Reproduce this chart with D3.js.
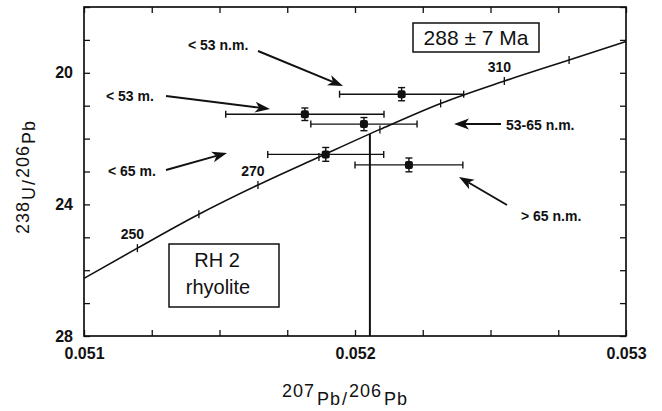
<!DOCTYPE html>
<html>
<head>
<meta charset="utf-8">
<script src="https://cdn.jsdelivr.net/npm/d3@7"></script>
<style>
  body { margin: 0; background: #fff; }
  svg { display: block; }
  text { font-family: "Liberation Sans", Arial, sans-serif; fill: #111; }
</style>
</head>
<body>
<div id="chart"></div>
<script>
// Tera-Wasserburg plot, sample RH 2 rhyolite

// concordia, age marks (Ma)
const concAge = [250, 260, 270, 280, 290, 300, 310, 320];
const concX = [0.051197, 0.051424, 0.051642, 0.051867, 0.052092, 0.052316, 0.052551, 0.052790];
const concY = [25.33, 24.30, 23.41, 22.56, 21.72, 20.93, 20.25, 19.61];
const concEdgeX = [0.051, 0.053];
const concEdgeY = [26.25, 19.05];
const ageLabels = [250, 270, 310];

// zircon fractions
const fracName = ["< 53 n.m.", "< 53 m.", "53-65 n.m.", "< 65 m.", "> 65 n.m."];
const fracX = [0.052172, 0.051815, 0.052033, 0.051892, 0.052199];
const fracY = [20.65, 21.26, 21.56, 22.48, 22.80];
const fracXErr = [0.000229, 0.000292, 0.000196, 0.000214, 0.000199];
const fracYErr = [0.20, 0.19, 0.20, 0.21, 0.21];

// lower intercept
const interceptX = 0.052055;
const interceptY = 21.86;

const xTicks = d3.range(0, 9).map(i => 0.051 + i * 0.00025);
const xTickLabels = [0.051, 0.052, 0.053];
const yTicks = d3.range(18, 29);
const yTickLabels = [20, 24, 28];

const W = 662, H = 411;
const mLeft = 84, mRight = 626, mTop = 7, mBottom = 336;

const x = d3.scaleLinear().domain([0.051, 0.053]).range([mLeft, mRight]);
const y = d3.scaleLinear().domain([18, 28]).range([mTop, mBottom]);

const svg = d3.select("#chart").append("svg")
  .attr("width", W).attr("height", H);

const isLabelX = d => xTickLabels.some(v => Math.abs(v - d) < 1e-9);

// axes, ticks pointing inward
const axB = svg.append("g").attr("transform", `translate(0,${mBottom})`)
  .call(d3.axisBottom(x).tickValues(xTicks).tickSize(-6).tickPadding(12)
    .tickFormat(d => isLabelX(d) ? d3.format(".3f")(d) : ""));
const axT = svg.append("g").attr("transform", `translate(0,${mTop})`)
  .call(d3.axisTop(x).tickValues(xTicks).tickSize(-6).tickFormat(""));
const axL = svg.append("g").attr("transform", `translate(${mLeft},0)`)
  .call(d3.axisLeft(y).tickValues(yTicks).tickSize(-6).tickPadding(11)
    .tickFormat(d => yTickLabels.includes(d) ? d : ""));
const axR = svg.append("g").attr("transform", `translate(${mRight},0)`)
  .call(d3.axisRight(y).tickValues(yTicks).tickSize(-6).tickFormat(""));

[axB, axT, axL, axR].forEach(g => {
  g.select(".domain").remove();
  g.selectAll(".tick line").attr("stroke", "#111").attr("stroke-width", 1.3);
  g.selectAll(".tick text")
    .attr("font-family", "Liberation Sans, Arial, sans-serif")
    .attr("font-size", 16).attr("font-weight", "bold").attr("fill", "#111");
});

svg.append("rect")
  .attr("x", mLeft).attr("y", mTop)
  .attr("width", mRight - mLeft).attr("height", mBottom - mTop)
  .attr("fill", "none").attr("stroke", "#111").attr("stroke-width", 1.7);

// concordia curve
const curvePts = [[concEdgeX[0], concEdgeY[0]]]
  .concat(concX.map((v, i) => [v, concY[i]]))
  .concat([[concEdgeX[1], concEdgeY[1]]]);

const line = d3.line().x(d => x(d[0])).y(d => y(d[1])).curve(d3.curveMonotoneX);

svg.append("path")
  .attr("d", line(curvePts))
  .attr("fill", "none").attr("stroke", "#111").attr("stroke-width", 1.6);

svg.append("g").selectAll("line")
  .data(concAge)
  .enter().append("line")
  .attr("x1", (d, i) => x(concX[i])).attr("x2", (d, i) => x(concX[i]))
  .attr("y1", (d, i) => y(concY[i]) - 4).attr("y2", (d, i) => y(concY[i]) + 4)
  .attr("stroke", "#111").attr("stroke-width", 1.3);

svg.append("g").selectAll("text")
  .data(ageLabels)
  .enter().append("text")
  .attr("x", d => x(concX[concAge.indexOf(d)]) - 5)
  .attr("y", d => y(concY[concAge.indexOf(d)]) - 9)
  .attr("text-anchor", "middle")
  .attr("font-size", 14).attr("font-weight", "bold")
  .text(d => d);

// vertical line from the lower intercept
svg.append("line")
  .attr("x1", x(interceptX)).attr("x2", x(interceptX))
  .attr("y1", y(interceptY)).attr("y2", y(28))
  .attr("stroke", "#111").attr("stroke-width", 2);

// error crosses
const errs = svg.append("g").attr("stroke", "#111").attr("stroke-width", 1.4);
fracName.forEach((n, i) => {
  const cx = x(fracX[i]), cy = y(fracY[i]);
  const x0 = x(fracX[i] - fracXErr[i]), x1 = x(fracX[i] + fracXErr[i]);
  const y0 = y(fracY[i] - fracYErr[i]), y1 = y(fracY[i] + fracYErr[i]);
  errs.append("line").attr("x1", x0).attr("x2", x1).attr("y1", cy).attr("y2", cy);
  errs.append("line").attr("x1", x0).attr("x2", x0).attr("y1", cy - 3.5).attr("y2", cy + 3.5);
  errs.append("line").attr("x1", x1).attr("x2", x1).attr("y1", cy - 3.5).attr("y2", cy + 3.5);
  errs.append("line").attr("x1", cx).attr("x2", cx).attr("y1", y0).attr("y2", y1);
  errs.append("line").attr("x1", cx - 3.5).attr("x2", cx + 3.5).attr("y1", y0).attr("y2", y0);
  errs.append("line").attr("x1", cx - 3.5).attr("x2", cx + 3.5).attr("y1", y1).attr("y2", y1);
  svg.append("rect").attr("x", cx - 4).attr("y", cy - 4).attr("width", 8).attr("height", 8)
    .attr("rx", 2).attr("fill", "#111");
});

// labels and arrows (pixel layout)
const notes = [
  { text: "< 53 n.m.", tx: 188, ty: 50, tail: [258, 51], tip: [343, 86] },
  { text: "< 53 m.", tx: 106, ty: 101, tail: [166, 96], tip: [270, 109] },
  { text: "< 65 m.", tx: 108, ty: 176, tail: [166, 170], tip: [227, 153] },
  { text: "53-65 n.m.", tx: 506, ty: 130, tail: [501, 124], tip: [454, 124] },
  { text: "> 65 n.m.", tx: 521, ty: 221, tail: [507, 205], tip: [459, 177] }
];

notes.forEach(n => {
  svg.append("text").attr("x", n.tx).attr("y", n.ty)
    .attr("font-size", 14).attr("font-weight", "bold").text(n.text);
  const dx = n.tip[0] - n.tail[0], dy = n.tip[1] - n.tail[1];
  const len = Math.hypot(dx, dy), ux = dx / len, uy = dy / len;
  const hl = 15, hw = 5.5;
  const bx = n.tip[0] - ux * hl, by = n.tip[1] - uy * hl;
  const nx = n.tip[0] - ux * (hl - 4), ny = n.tip[1] - uy * (hl - 4);
  svg.append("line")
    .attr("x1", n.tail[0]).attr("y1", n.tail[1]).attr("x2", nx).attr("y2", ny)
    .attr("stroke", "#111").attr("stroke-width", 1.9);
  svg.append("path")
    .attr("d", `M${n.tip[0]},${n.tip[1]}L${bx - uy * hw},${by + ux * hw}L${nx},${ny}L${bx + uy * hw},${by - ux * hw}Z`)
    .attr("fill", "#111");
});

// age box
svg.append("rect").attr("x", 413).attr("y", 23).attr("width", 126).attr("height", 29)
  .attr("fill", "#fff").attr("stroke", "#111").attr("stroke-width", 1.5);
svg.append("text").attr("x", 476).attr("y", 45).attr("text-anchor", "middle")
  .attr("font-size", 21).text("288 \u00b1 7 Ma");

// sample box
svg.append("rect").attr("x", 169).attr("y", 244).attr("width", 110).attr("height", 63)
  .attr("fill", "#fff").attr("stroke", "#111").attr("stroke-width", 1.5);
svg.append("text").attr("x", 217).attr("y", 267).attr("text-anchor", "middle")
  .attr("font-size", 20).text("RH 2");
svg.append("text").attr("x", 218).attr("y", 294).attr("text-anchor", "middle")
  .attr("font-size", 20).text("rhyolite");

// axis titles with raised mass numbers
function isoTitle(g, parts, shift) {
  const t = g.append("text").attr("text-anchor", "middle")
    .attr("font-size", 18).attr("letter-spacing", 1);
  let level = 0;
  parts.forEach(p => {
    const want = p.up ? -shift : 0;
    t.append("tspan").attr("dy", want - level).attr("dx", p.gap || 0).text(p.s);
    level = want;
  });
}

isoTitle(svg.append("g").attr("transform", "translate(345,405)"), [
  { s: "207", up: true }, { s: "Pb", gap: 2 }, { s: "/", gap: 1 },
  { s: "206", up: true, gap: 1 }, { s: "Pb", gap: 2 }
], 8);

isoTitle(svg.append("g").attr("transform", "translate(35,177) rotate(-90)"), [
  { s: "238", up: true }, { s: "U", gap: 1 }, { s: "/", gap: 1 },
  { s: "206", up: true, gap: 1 }, { s: "Pb", gap: 1 }
], 6);
</script>
</body>
</html>
